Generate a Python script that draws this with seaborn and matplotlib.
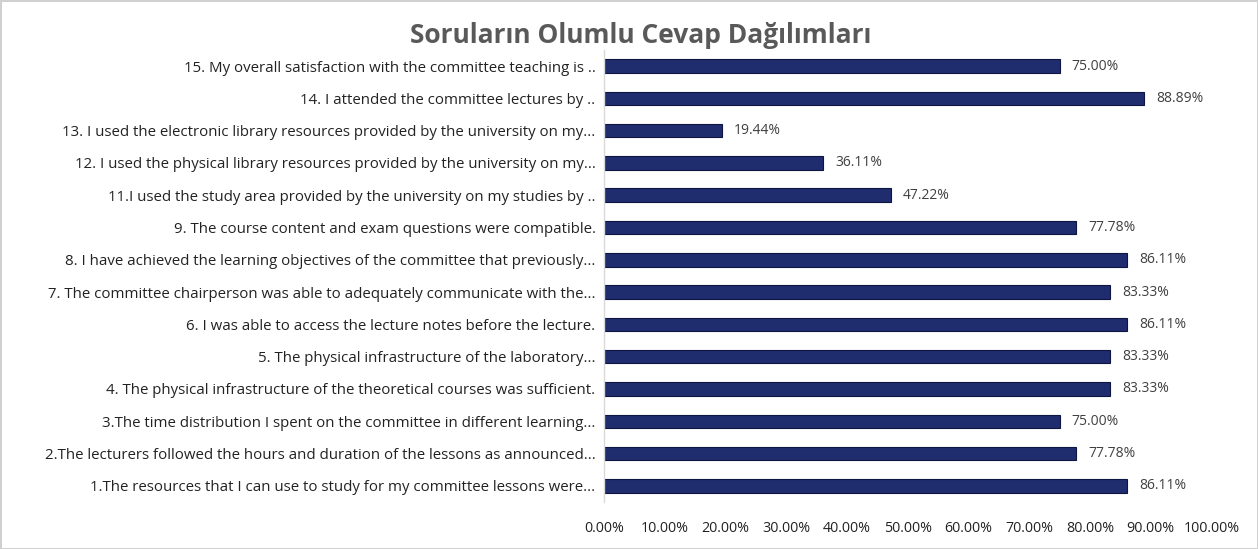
import seaborn as sns
import pandas as pd
import matplotlib.pyplot as plt
from matplotlib.ticker import FuncFormatter

# Questions, top to bottom as shown in the chart
questions = [
    '15. My overall satisfaction with the committee teaching is ..',
    '14. I attended the committee lectures by ..',
    '13. I used the electronic library resources provided by the university on my...',
    '12. I used the physical library resources provided by the university on my...',
    '11.I used the study area provided by the university on my studies by ..',
    '9. The course content and exam questions were compatible.',
    '8. I have achieved the learning objectives of the committee that previously...',
    '7. The committee chairperson was able to adequately communicate with the...',
    '6. I was able to access the lecture notes before the lecture.',
    '5. The physical infrastructure of the laboratory...',
    '4. The physical infrastructure of the theoretical courses was sufficient.',
    '3.The time distribution I spent on the committee in different learning...',
    '2.The lecturers followed the hours and duration of the lessons as announced...',
    '1.The resources that I can use to study for my committee lessons were...',
]
positive = [0.7500, 0.8889, 0.1944, 0.3611, 0.4722, 0.7778, 0.8611,
            0.8333, 0.8611, 0.8333, 0.8333, 0.7500, 0.7778, 0.8611]
x_ticks = [0.0, 0.1, 0.2, 0.3, 0.4, 0.5, 0.6, 0.7, 0.8, 0.9, 1.0]
title = 'Soruların Olumlu Cevap Dağılımları'

df = pd.DataFrame({'question': questions, 'positive': positive})

sns.set_style('white')
plt.rcParams['font.family'] = ['Open Sans', 'DejaVu Sans']

fig = plt.figure(figsize=(12.58, 5.49), dpi=100, edgecolor='#d0d0d0', linewidth=2)
ax = fig.add_axes([0.480, 0.0856, 0.483, 0.8234])

sns.barplot(data=df, x='positive', y='question', orient='h', color='#1f2c6e',
            width=0.42, edgecolor='#0d1640', linewidth=0.8, saturation=1, ax=ax)

for i, v in enumerate(positive):
    ax.text(v + 0.02, i, f'{v * 100:.2f}%', va='center', ha='left',
            fontsize=10, color='#404040')

ax.set_xlim(0, 1.0)
ax.set_xticks(x_ticks)
ax.xaxis.set_major_formatter(FuncFormatter(lambda v, p: f'{v * 100:.2f}%'))
ax.set_xlabel('')
ax.set_ylabel('')
ax.tick_params(axis='both', length=0)
ax.tick_params(axis='x', labelsize=10.3, colors='#222222', pad=14)
ax.tick_params(axis='y', labelsize=10.8, colors='#222222', pad=6)
for s in ['top', 'right', 'bottom']:
    ax.spines[s].set_visible(False)
ax.spines['left'].set_color('#d9d9d9')
ax.spines['left'].set_linewidth(1)

fig.text(0.509, 0.936, title, ha='center', va='center', fontsize=19,
         fontweight='bold', color='#595959')

fig.savefig('out.png', dpi=100, edgecolor=fig.get_edgecolor())
